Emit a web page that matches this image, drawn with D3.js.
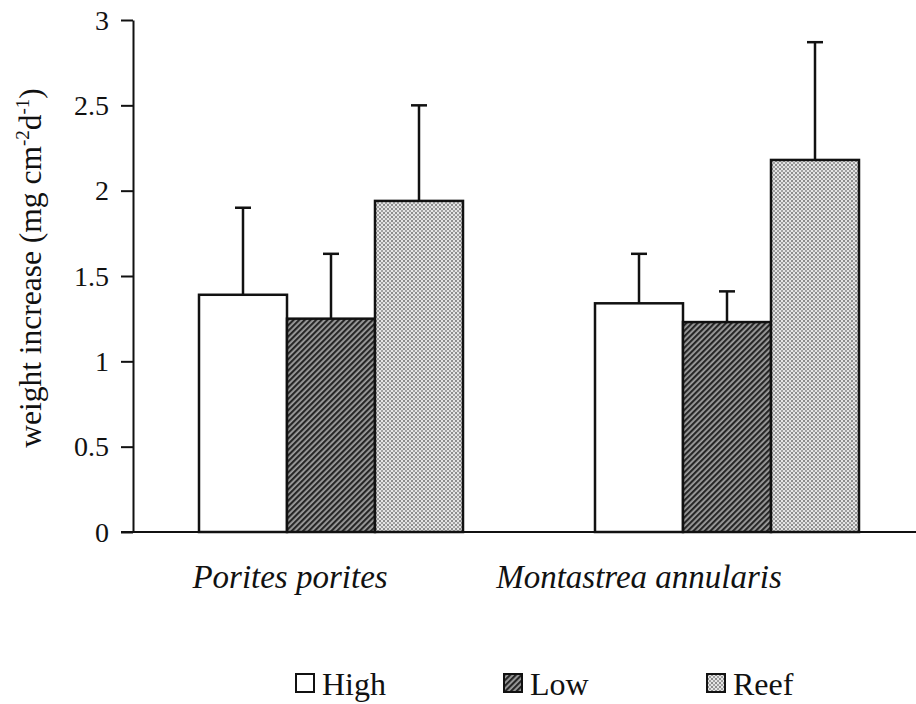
<!DOCTYPE html>
<html>
<head>
<meta charset="utf-8">
<script src="https://cdn.jsdelivr.net/npm/d3@7"></script>
<style>
  body { margin: 0; background: #fff; }
</style>
</head>
<body>
<div id="chart"></div>
<script>
// data
var species = ["Porites porites", "Montastrea annularis"];
var treatments = ["High", "Low", "Reef"];
var means = [
  [1.39, 1.25, 1.94],
  [1.34, 1.23, 2.18]
];
var errors = [
  [0.51, 0.38, 0.56],
  [0.29, 0.18, 0.69]
];
var yTicks = [0, 0.5, 1, 1.5, 2, 2.5, 3];
var yTickLabels = ["0", "0.5", "1", "1.5", "2", "2.5", "3"];

var width = 916, height = 704;
var serif = "Liberation Serif";

var svg = d3.select("#chart").append("svg")
  .attr("width", width)
  .attr("height", height);

var defs = svg.append("defs");

// diagonal hatch for "Low"
var hatch = defs.append("pattern")
  .attr("id", "hatch")
  .attr("patternUnits", "userSpaceOnUse")
  .attr("width", 4).attr("height", 4)
  .attr("patternTransform", "rotate(45)");
hatch.append("rect").attr("width", 4).attr("height", 4).attr("fill", "#a0a0a0");
hatch.append("rect").attr("width", 2.2).attr("height", 4).attr("fill", "#262626");

// fine stipple for "Reef"
var dots = defs.append("pattern")
  .attr("id", "dots")
  .attr("patternUnits", "userSpaceOnUse")
  .attr("width", 4).attr("height", 4);
dots.append("rect").attr("width", 4).attr("height", 4).attr("fill", "#e4e4e4");
dots.append("rect").attr("width", 2).attr("height", 2).attr("fill", "#8c8c8c");
dots.append("rect").attr("x", 2).attr("y", 2).attr("width", 2).attr("height", 2).attr("fill", "#a0a0a0");

var fills = { High: "#fff", Low: "url(#hatch)", Reef: "url(#dots)" };

var y = d3.scaleLinear().domain([0, 3]).range([532, 20]);

var x0 = d3.scaleBand()
  .domain(species)
  .range([199, 859])
  .paddingInner(1 / 3);

var x1 = d3.scaleBand()
  .domain(treatments)
  .range([0, x0.bandwidth()]);

// y axis
var yAxis = d3.axisLeft(y)
  .tickValues(yTicks)
  .tickFormat(function(d, i) { return yTickLabels[i]; })
  .tickSize(12)
  .tickPadding(12)
  .tickSizeOuter(0);

var gy = svg.append("g")
  .attr("transform", "translate(133,0)")
  .call(yAxis);
gy.selectAll("path, line").attr("stroke", "#111").attr("stroke-width", 2);
gy.selectAll("text")
  .attr("dy", "0.33em")
  .attr("fill", "#111")
  .attr("font-family", serif)
  .attr("font-size", 28);

// baseline
svg.append("line")
  .attr("x1", 121).attr("x2", width)
  .attr("y1", y(0)).attr("y2", y(0))
  .attr("stroke", "#111").attr("stroke-width", 2);

// bars
var groups = svg.selectAll("g.group")
  .data(species)
  .enter().append("g")
  .attr("class", "group")
  .attr("transform", function(d) { return "translate(" + x0(d) + ",0)"; });

groups.each(function(sp, si) {
  var g = d3.select(this);
  var rows = treatments.map(function(t, ti) {
    return { t: t, v: means[si][ti], e: errors[si][ti] };
  });

  // error bars (upper only)
  g.selectAll("line.err")
    .data(rows)
    .enter().append("line")
    .attr("class", "err")
    .attr("x1", function(d) { return x1(d.t) + x1.bandwidth() / 2; })
    .attr("x2", function(d) { return x1(d.t) + x1.bandwidth() / 2; })
    .attr("y1", function(d) { return y(d.v); })
    .attr("y2", function(d) { return y(d.v + d.e); })
    .attr("stroke", "#111").attr("stroke-width", 2.5);

  g.selectAll("line.cap")
    .data(rows)
    .enter().append("line")
    .attr("class", "cap")
    .attr("x1", function(d) { return x1(d.t) + x1.bandwidth() / 2 - 8; })
    .attr("x2", function(d) { return x1(d.t) + x1.bandwidth() / 2 + 8; })
    .attr("y1", function(d) { return y(d.v + d.e); })
    .attr("y2", function(d) { return y(d.v + d.e); })
    .attr("stroke", "#111").attr("stroke-width", 2.5);

  g.selectAll("rect")
    .data(rows)
    .enter().append("rect")
    .attr("x", function(d) { return x1(d.t); })
    .attr("y", function(d) { return y(d.v); })
    .attr("width", x1.bandwidth())
    .attr("height", function(d) { return y(0) - y(d.v); })
    .attr("fill", function(d) { return fills[d.t]; })
    .attr("stroke", "#111")
    .attr("stroke-width", 2.5);
});

// species labels (italic, set left of the group centres as in the figure)
var labelShift = [-41, -88];
svg.selectAll("text.species")
  .data(species)
  .enter().append("text")
  .attr("class", "species")
  .attr("x", function(d, i) { return x0(d) + x0.bandwidth() / 2 + labelShift[i]; })
  .attr("y", 588)
  .attr("text-anchor", "middle")
  .attr("fill", "#111")
  .attr("font-family", serif)
  .attr("font-style", "italic")
  .attr("font-size", 33)
  .text(function(d) { return d; });

// y axis title
var yt = svg.append("text")
  .attr("transform", "translate(41,268) rotate(-90)")
  .attr("text-anchor", "middle")
  .attr("fill", "#111")
  .attr("font-family", serif)
  .attr("font-size", 31.5);
yt.append("tspan").attr("font-family", serif).text("weight increase (mg cm");
yt.append("tspan").attr("font-family", serif).attr("dy", -12).attr("font-size", 19).text("-2");
yt.append("tspan").attr("font-family", serif).attr("dy", 12).text("d");
yt.append("tspan").attr("font-family", serif).attr("dy", -12).attr("font-size", 19).text("-1");
yt.append("tspan").attr("font-family", serif).attr("dy", 12).text(")");

// legend
var legendX = [296, 504, 707];
var legend = svg.selectAll("g.legend")
  .data(treatments)
  .enter().append("g")
  .attr("class", "legend")
  .attr("transform", function(d, i) { return "translate(" + legendX[i] + ",674)"; });

legend.append("rect")
  .attr("width", 18).attr("height", 18)
  .attr("fill", function(d) { return fills[d]; })
  .attr("stroke", "#111").attr("stroke-width", 2);

legend.append("text")
  .attr("x", 26).attr("y", 21)
  .attr("fill", "#111")
  .attr("font-family", serif)
  .attr("font-size", 32)
  .text(function(d) { return d; });
</script>
</body>
</html>
